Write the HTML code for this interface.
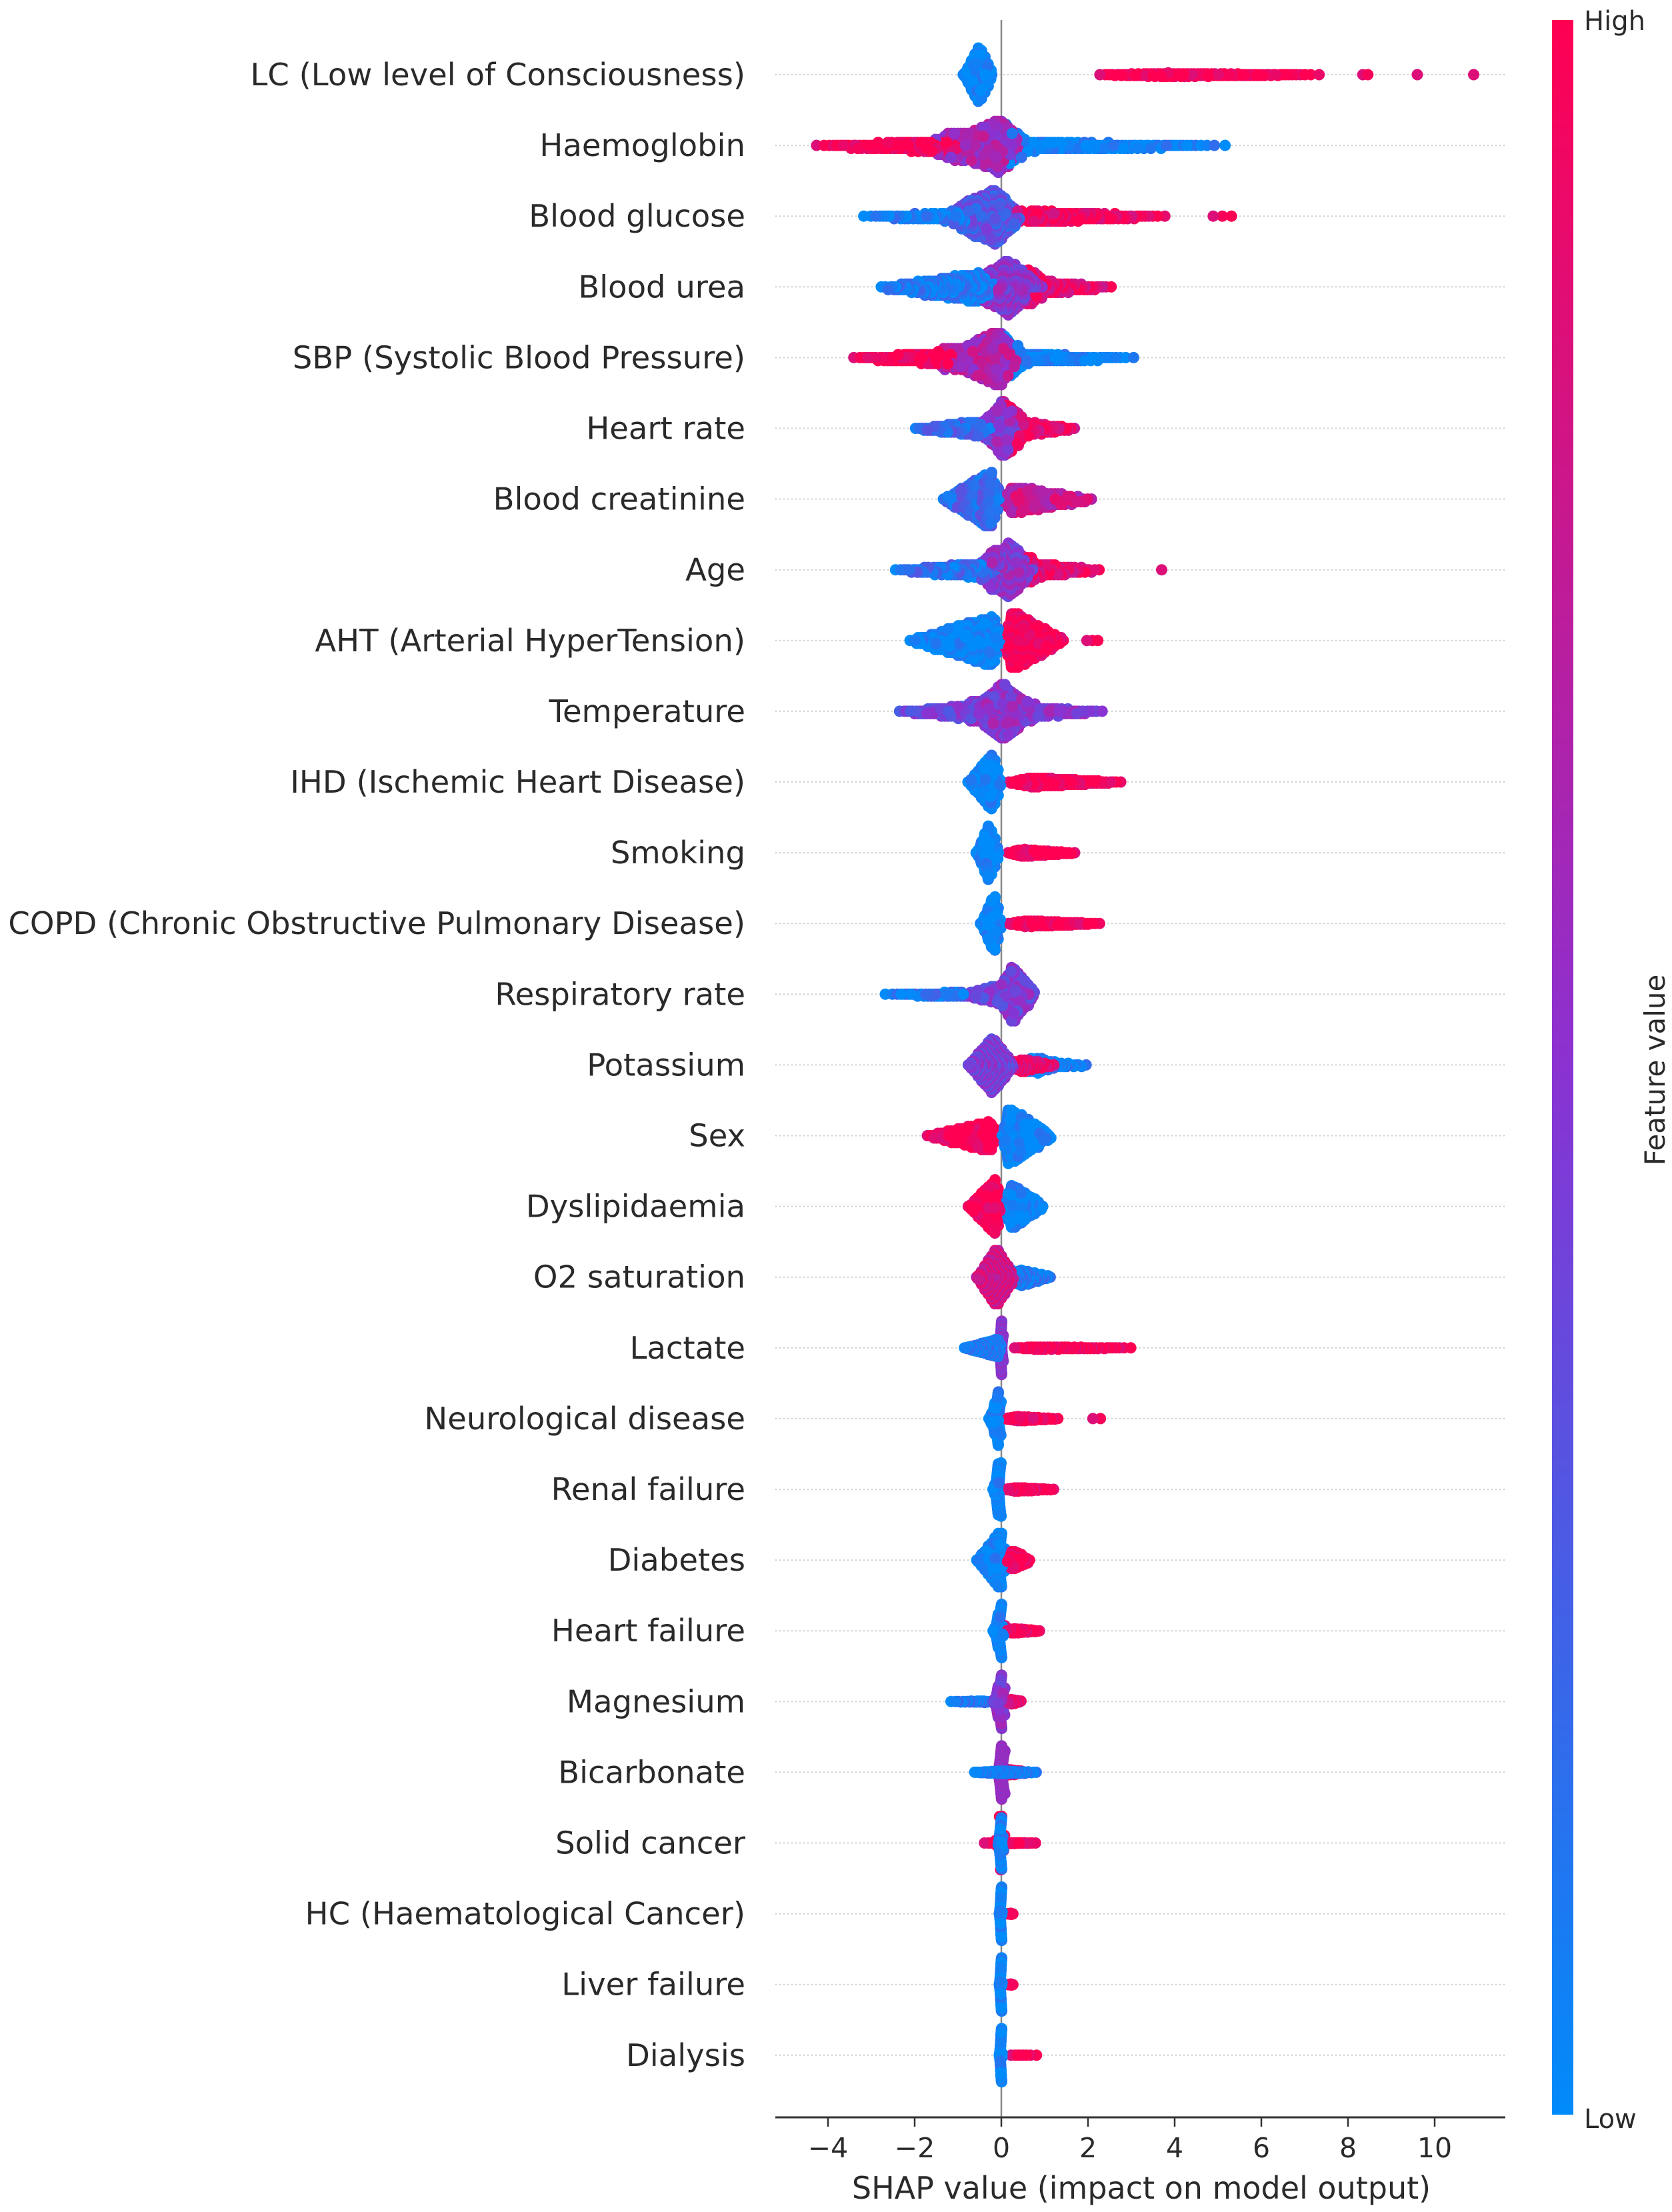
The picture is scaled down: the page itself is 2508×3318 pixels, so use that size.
<!DOCTYPE html>
<html><head><meta charset="utf-8"><style>
html,body{margin:0;padding:0;background:#fff;width:2508px;height:3318px;overflow:hidden}
svg{display:block}
text{font-family:"DejaVu Sans","Liberation Sans",sans-serif;fill:#2a2a2a}
</style></head><body>
<svg id="chart" width="2508" height="3318" viewBox="0 0 2508 3318" xmlns="http://www.w3.org/2000/svg">
<defs><linearGradient id="cb" x1="0" y1="1" x2="0" y2="0">
<stop offset="0" stop-color="rgb(0,139,250)"/><stop offset="0.5" stop-color="rgb(138,50,210)"/><stop offset="1" stop-color="rgb(255,0,82)"/></linearGradient></defs>
<g id="rows"></g>
<g id="dots"></g>
<g id="axis"></g>
<rect x="2328" y="30" width="32" height="3142" fill="url(#cb)"/>
<text x="2376" y="45" font-size="40">High</text>
<text x="2376" y="3192" font-size="40">Low</text>
<text x="2497" y="1605" font-size="42" text-anchor="middle" transform="rotate(-90 2497 1605)">Feature value</text>
<text x="1712" y="3298" font-size="46" text-anchor="middle">SHAP value (impact on model output)</text>
</svg>
<script>
const features=["LC (Low level of Consciousness)","Haemoglobin","Blood glucose","Blood urea","SBP (Systolic Blood Pressure)","Heart rate","Blood creatinine","Age","AHT (Arterial HyperTension)","Temperature","IHD (Ischemic Heart Disease)","Smoking","COPD (Chronic Obstructive Pulmonary Disease)","Respiratory rate","Potassium","Sex","Dyslipidaemia","O2 saturation","Lactate","Neurological disease","Renal failure","Diabetes","Heart failure","Magnesium","Bicarbonate","Solid cancer","HC (Haematological Cancer)","Liver failure","Dialysis"];
// clusters per feature: [start, end, count, featureValue(0..1), mode(0..1)]
const clusters=[
[[-0.9,-0.2,300,0,0.5],[2.1,7.6,150,1,0.3],[8.2,8.6,2,1,0.5],[9.6,9.6,1,1,0.5],[10.9,10.9,1,1,0.5]],
[[-4.5,-0.8,110,1,0.9],[-1.6,0.6,260,0.6,0.7],[0,5.5,120,0.02,0.1]],
[[-3.4,-0.4,80,0.05,0.9],[-1.2,0.5,250,0.3,0.6],[0.3,4.0,120,0.95,0.1],[4.6,5.6,3,1,0.5]],
[[-2.9,0,200,0.08,0.8],[-0.5,1.0,200,0.5,0.4],[0.5,2.7,80,0.9,0.1]],
[[-3.6,-1.0,80,1,0.9],[-1.5,0.5,250,0.65,0.7],[0,3.3,80,0.02,0.1]],
[[-2.1,-0.2,100,0.2,0.8],[-0.5,0.5,200,0.5,0.5],[0,1.8,100,0.9,0.2]],
[[-1.4,0,200,0.2,0.8],[0,2.2,150,0.75,0.1]],
[[-2.6,0,120,0.15,0.9],[-0.5,0.8,200,0.5,0.5],[0.5,2.4,80,0.9,0.1],[3.7,3.7,1,1,0.5]],
[[-2.2,0,250,0,0.9],[0,1.5,200,1,0.15],[1.8,2.4,3,1,0.5]],
[[-2.5,-0.5,80,0.4,0.9],[-0.8,0.8,250,0.5,0.5],[0.5,2.5,60,0.5,0.1]],
[[-0.8,0,250,0,0.7],[0.1,2.9,150,1,0.2]],
[[-0.6,-0.05,250,0,0.5],[0.1,1.8,100,1,0.2]],
[[-0.5,0,250,0,0.6],[0.1,2.4,120,1,0.2]],
[[-2.9,-0.8,40,0.1,0.9],[-1.0,0.3,100,0.4,0.8],[0,0.8,150,0.45,0.3]],
[[-0.8,0.3,250,0.45,0.5],[0.2,1.3,60,0.9,0.2],[0.5,2.1,50,0.05,0.2]],
[[-1.8,-0.1,150,1,0.9],[0,1.2,200,0,0.1]],
[[-0.8,0,200,1,0.8],[0,1.0,200,0,0.2]],
[[-0.6,0.3,250,0.8,0.5],[0.2,1.2,80,0.1,0.2]],
[[-0.9,0,150,0.1,0.9],[-0.05,0.05,100,0.5,0.5],[0.2,3.2,80,1,0.2]],
[[-0.3,0,250,0,0.8],[0.05,1.4,80,1,0.2],[1.9,2.5,2,1,0.5]],
[[-0.2,0,250,0,0.8],[0.05,1.3,70,1,0.2]],
[[-0.6,0.1,200,0,0.8],[0.1,0.7,60,1,0.2]],
[[-0.2,0.05,250,0,0.7],[0.05,0.95,70,1,0.2]],
[[-1.3,-0.2,25,0.1,0.8],[-0.2,0.1,250,0.5,0.6],[0.1,0.5,30,0.9,0.2]],
[[-0.7,0.9,80,0.05,0.45],[-0.1,0.1,250,0.55,0.5],[0,0.6,30,0.9,0.3]],
[[-0.1,0.05,250,0,0.6],[-0.5,0.9,40,1,0.5]],
[[-0.05,0.02,250,0,0.6],[0.1,0.3,10,1,0.5]],
[[-0.05,0.02,250,0,0.6],[0.1,0.3,10,1,0.5]],
[[-0.05,0.02,250,0,0.6],[0.1,1.0,8,1,0.3]]
];
const xTicks=[-4,-2,0,2,4,6,8,10];

const NS="http://www.w3.org/2000/svg";
const X0=1502, UNIT=65, AX_L=1163, AX_R=2258, ROW0=112, ROWH=106.1, AXIS_Y=3176;
const xs=v=>X0+v*UNIT;
const ys=i=>ROW0+i*ROWH;
function el(tag,attrs,parent){const e=document.createElementNS(NS,tag);for(const k in attrs)e.setAttribute(k,attrs[k]);parent.appendChild(e);return e;}
function color(v){
  const a=[0,139,250],m=[138,50,210],b=[255,0,82];let c;
  if(v<0.5){const t=v/0.5;c=a.map((x,i)=>Math.round(x+(m[i]-x)*t));}
  else{const t=(v-0.5)/0.5;c=m.map((x,i)=>Math.round(x+(b[i]-x)*t));}
  return `rgb(${c[0]},${c[1]},${c[2]})`;
}
function tri(t,m){return t<m?Math.sqrt(t*m):1-Math.sqrt((1-t)*(1-m));}
const rowsG=document.getElementById('rows'),dotsG=document.getElementById('dots'),axG=document.getElementById('axis');
const zl=el('line',{x1:xs(0),x2:xs(0),y1:30,y2:AXIS_Y,stroke:'#888','stroke-width':2.5},rowsG);


features.forEach((f,i)=>{
  const y=ys(i);
  const ln=el('line',{x1:AX_L,x2:AX_R,y1:y,y2:y,stroke:'#ccc','stroke-width':2,'stroke-dasharray':'2 4'},rowsG);
  
  
  const t=el('text',{x:1118,y:y+16,'font-size':46.5,'text-anchor':'end'},rowsG);
  t.textContent=f;
  
  
  let pts=[];
  clusters[i].forEach(c=>{
    const [a,b,n,v,m]=c;
    for(let k=0;k<n;k++){const t=(k+0.5)/n;pts.push({x:xs(a+(b-a)*tri(t,m)),v:v+((k*37)%11-5)*0.03});}
  });
  const BW=5,bins={};
  pts.forEach(p=>{const b=Math.round(p.x/BW);(bins[b]=bins[b]||[]).push(p);});
  let maxC=1;for(const k in bins)maxC=Math.max(maxC,bins[k].length);
  const s=Math.min(4.5,40/Math.max(1,(maxC-1)/2));
  for(const k in bins){bins[k].forEach((p,j)=>{const lvl=Math.ceil(j/2);p.dy=(j%2?1:-1)*lvl*s;});}
  const N=pts.length;
  const order=pts.map((p,k)=>[(k*7919)%N,p]).sort((u,w)=>u[0]-w[0]).map(u=>u[1]);
  order.forEach(p=>{
    const c=el('circle',{cx:p.x.toFixed(1),cy:(y+p.dy).toFixed(1),r:8.5,fill:color(Math.max(0,Math.min(1,p.v)))},dotsG);
    
    
  });
});
const al=el('line',{x1:AX_L,x2:AX_R,y1:AXIS_Y,y2:AXIS_Y,stroke:'#333','stroke-width':3},axG);


xTicks.forEach(v=>{
  const tk=el('line',{x1:xs(v),x2:xs(v),y1:AXIS_Y,y2:AXIS_Y+14,stroke:'#333','stroke-width':2.5},axG);
  
  
  const t=el('text',{x:xs(v),y:AXIS_Y+60,'font-size':41,'text-anchor':'middle'},axG);
  t.textContent=v<0?'\u2212'+Math.abs(v):String(v);
  
  
});
</script>
</body></html>
